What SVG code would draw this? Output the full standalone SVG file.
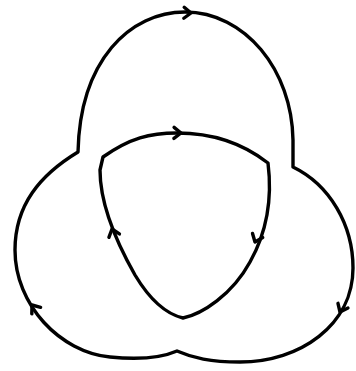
<svg xmlns="http://www.w3.org/2000/svg" width="356" height="371" viewBox="0 0 356 371">
<style>
.c{fill:none;stroke:#000;stroke-width:3.4;stroke-linejoin:round;stroke-linecap:round}
</style>
<defs>
<path id="chev" d="M-7,-5.5 L0,0 L-7,5.5" class="c"/>
</defs>
<rect width="356" height="371" fill="#fff"/>
<g id="outer">
<path class="c" d="M78,152 C80,60 130,12 185,12 C245,12 292,70 293,140 L293,167 C330,185 353,225 353,268 C353,325 300,362 240,362 C210,362 193,358 177,351 C161,358 140,360 110,357 C60,352 15,305 15,250 C15,205 40,175 78,152 Z"/>
</g>
<g id="inner">
<path class="c" d="M103,157 C130,138 150,133 177,133 C215,133 245,145 268,163 C272,195 268,230 250,262 C232,295 202,314 183,318 C166,314 150,300 135,275 C118,245 100,205 100,170 Z"/>
</g>
<g id="arrows">
<use href="#chev" transform="translate(191,13) rotate(2)"/>
<use href="#chev" transform="translate(181,133) rotate(1)"/>
<use href="#chev" transform="translate(255,242) rotate(112)"/>
<use href="#chev" transform="translate(112,229) rotate(-108)"/>
<use href="#chev" transform="translate(32,305) rotate(-127)"/>
<use href="#chev" transform="translate(340,312) rotate(115)"/>
</g>
</svg>
